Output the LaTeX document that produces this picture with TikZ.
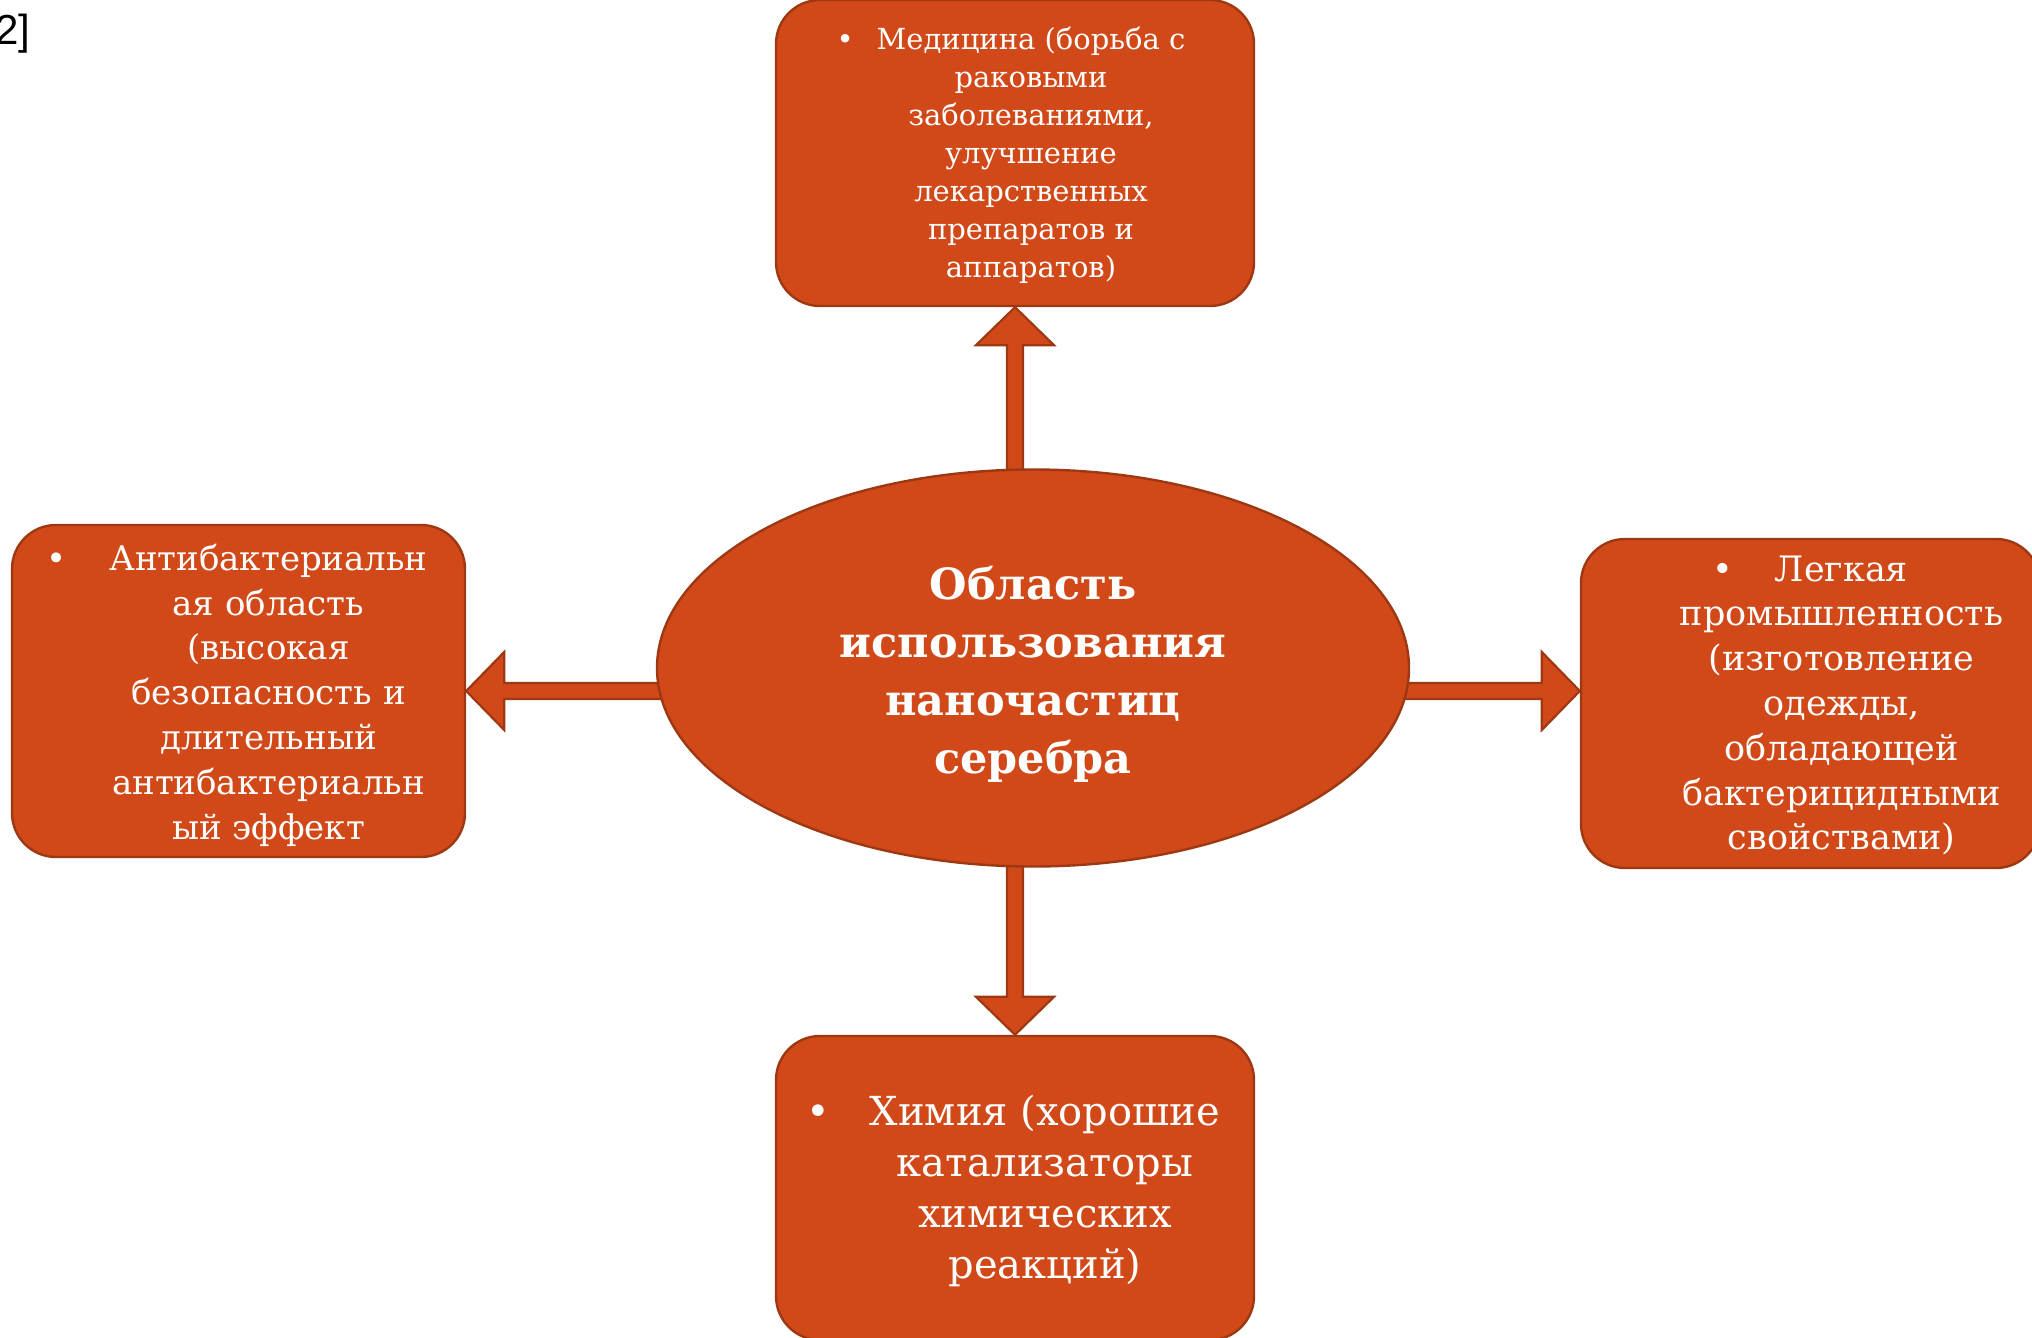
\documentclass[tikz,border=0pt]{standalone}
\usepackage{fontspec}
\setmainfont{DejaVu Serif}
\newfontfamily\labelfont{Liberation Sans}
\usetikzlibrary{shapes.geometric,calc,backgrounds}
\definecolor{boxfill}{RGB}{209,73,24}
\definecolor{boxline}{RGB}{158,56,18}
\tikzset{
  boxshape/.style={draw=boxline, fill=boxfill, line width=1.2pt, rounded corners=22pt, inner sep=0pt},
  ellshape/.style={ellipse, draw=boxline, fill=boxfill, line width=1.2pt, inner sep=0pt, text=white, align=center},
  boxtext/.style={text=white, align=center, inner sep=0pt},
  arrowshape/.style={draw=boxline, fill=boxfill, line width=1.1pt, line join=miter},
}
\newcommand{\blockarrow}[2]{%
  \coordinate (bh) at ($(#2)!19pt!(#1)$);
  \draw[arrowshape] ($(#1)!4pt!90:(#2)$) -- ($(bh)!4pt!90:(#2)$) -- ($(bh)!19.5pt!90:(#2)$) -- (#2)
    -- ($(bh)!19.5pt!-90:(#2)$) -- ($(bh)!4pt!-90:(#2)$) -- ($(#1)!4pt!-90:(#2)$) -- cycle;}
\begin{document}
\begin{tikzpicture}[x=0.5pt, y=-0.5pt]
\clip (0,0) rectangle (2032,1337);
\useasboundingbox (0,0) rectangle (2032,1337);

% boxes
\node[boxshape, minimum width=239pt, minimum height=153pt] (top) at (1015,153) {};
\node[boxshape, minimum width=226.5pt, minimum height=166pt] (left) at (238.5,691) {};
\node[boxshape, minimum width=229.5pt, minimum height=164.5pt] (right) at (1810.5,703.5) {};
\node[boxshape, minimum width=239pt, minimum height=152pt] (bot) at (1015,1188) {};

% centre
\node[ellshape, minimum width=376pt, minimum height=198.5pt] (ell) at (1033,668) {};
\node[boxtext, font=\bfseries\fontsize{21.5pt}{29pt}\selectfont] (elltext) at ([yshift=-3pt]ell.center)
  {Область\\использования\\наночастиц\\серебра};

% arrows (behind)
\begin{pgfonlayer}{background}
\coordinate (upS) at (top.south |- ell.center);
\blockarrow{upS}{top.south}
\coordinate (dnS) at (bot.north |- ell.center);
\blockarrow{dnS}{bot.north}
\coordinate (lfS) at (ell.center |- left.east);
\blockarrow{lfS}{left.east}
\coordinate (rtS) at (ell.center |- left.east);
\coordinate (rtT) at (right.west |- left.east);
\blockarrow{rtS}{rtT}
\end{pgfonlayer}

% texts
\node[boxtext, font=\fontsize{14.5pt}{19pt}\selectfont] (toptext) at ([xshift=8pt,yshift=-1pt]top.center)
  {\llap{•\hspace{11.5pt}}Медицина (борьба с\\раковыми\\заболеваниями,\\улучшение\\лекарственных\\препаратов и\\аппаратов)};
\node[boxtext, font=\fontsize{17pt}{22.4pt}\selectfont] (lefttext) at ([xshift=15pt,yshift=-2pt]left.center)
  {\llap{•\hspace{21.5pt}}Антибактериальн\\ая область\\(высокая\\безопасность и\\длительный\\антибактериальн\\ый эффект};
\node[boxtext, font=\fontsize{17.5pt}{22.4pt}\selectfont] (righttext) at ([xshift=15.5pt,yshift=-1pt]right.center)
  {\llap{•\hspace{21pt}}Легкая\\промышленность\\(изготовление\\одежды,\\обладающей\\бактерицидными\\свойствами)};
\node[boxtext, font=\fontsize{20pt}{25.5pt}\selectfont] (bottext) at ([xshift=15pt,yshift=-1.5pt]bot.center)
  {\llap{•\hspace{20pt}}Химия (хорошие\\катализаторы\\химических\\реакций)};

% stray reference mark
\node[anchor=north east, inner sep=0pt, font=\labelfont\fontsize{21pt}{21pt}\selectfont] (refmark) at (31,14) {2]};
\end{tikzpicture}
\end{document}
